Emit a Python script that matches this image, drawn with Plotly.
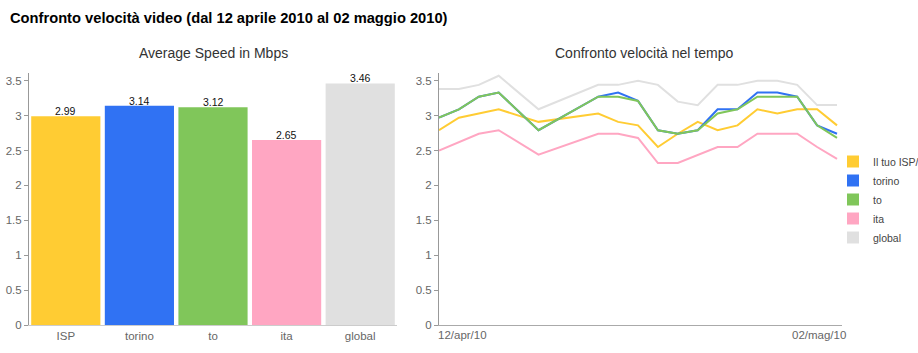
import plotly.graph_objects as go

# ---------------- data ----------------
categories = ["ISP", "torino", "to", "ita", "global"]
avg_speed = [2.99, 3.14, 3.12, 2.65, 3.46]
series_names = ["Il tuo ISP/", "torino", "to", "ita", "global"]
colors = ["#FFCC33", "#3072F3", "#80C65A", "#FFA6C2", "#E0E0E0"]

dates = ["2010-04-12", "2010-04-13", "2010-04-14", "2010-04-15", "2010-04-17",
         "2010-04-20", "2010-04-21", "2010-04-22", "2010-04-23", "2010-04-24",
         "2010-04-25", "2010-04-26", "2010-04-27", "2010-04-28", "2010-04-29",
         "2010-04-30", "2010-05-01", "2010-05-02"]
isp_speed = [2.79, 2.97, 3.03, 3.09, 2.91, 3.03, 2.91, 2.86, 2.55, 2.74,
             2.91, 2.79, 2.86, 3.09, 3.03, 3.09, 3.09, 2.86]
torino_speed = [2.97, 3.09, 3.27, 3.33, 2.79, 3.27, 3.33, 3.21, 2.79, 2.74,
                2.79, 3.09, 3.09, 3.33, 3.33, 3.27, 2.86, 2.74]
to_speed = [2.97, 3.09, 3.27, 3.33, 2.79, 3.27, 3.27, 3.21, 2.79, 2.74,
            2.79, 3.03, 3.09, 3.27, 3.27, 3.27, 2.86, 2.68]
ita_speed = [2.50, 2.62, 2.74, 2.79, 2.44, 2.74, 2.74, 2.68, 2.32, 2.32,
             2.44, 2.55, 2.55, 2.74, 2.74, 2.74, 2.55, 2.38]
global_speed = [3.38, 3.38, 3.44, 3.57, 3.09, 3.44, 3.44, 3.50, 3.44, 3.20,
                3.15, 3.44, 3.44, 3.50, 3.50, 3.44, 3.15, 3.15]
time_series = [isp_speed, torino_speed, to_speed, ita_speed, global_speed]

main_title = "Confronto velocità video (dal 12 aprile 2010 al 02 maggio 2010)"
left_title = "Average Speed in Mbps"
right_title = "Confronto velocità nel tempo"
first_date_label = "12/apr/10"
last_date_label = "02/mag/10"
y_ticks = [0, 0.5, 1, 1.5, 2, 2.5, 3, 3.5]
y_tick_text = ["0", "0.5", "1", "1.5", "2", "2.5", "3", "3.5"]

# ---------------- figure ----------------
W, H = 918, 353
FONT = "Liberation Sans, Arial, sans-serif"
fig = go.Figure()

for name, cat, val, col in zip(series_names, categories, avg_speed, colors):
    fig.add_trace(go.Bar(
        x=[cat], y=[val], name=name, marker=dict(color=col, line=dict(width=0)),
        xaxis="x", yaxis="y", showlegend=True))

for name, vals, col in zip(series_names, time_series, colors):
    fig.add_trace(go.Scatter(
        x=dates, y=vals, name=name, mode="lines",
        line=dict(color=col, width=2), xaxis="x2", yaxis="y2",
        showlegend=False))

ybot, ytop = (H - 325) / H, (H - 73) / H
yaxis_common = dict(range=[0, 3.61], tickvals=y_ticks, ticktext=y_tick_text,
                    showgrid=False, zeroline=False, showline=True,
                    linecolor="#999999", linewidth=1, ticks="outside",
                    ticklen=4, tickcolor="#999999",
                    tickfont=dict(family=FONT, size=11.5, color="#666666"),
                    domain=[ybot, ytop], fixedrange=True)

fig.update_layout(
    width=W, height=H, margin=dict(l=0, r=0, t=0, b=0, autoexpand=False),
    paper_bgcolor="white", plot_bgcolor="white",
    barmode="overlay", bargap=0.06,
    font=dict(family=FONT),
    xaxis=dict(domain=[29 / W, 397 / W], type="category",
               categoryorder="array", categoryarray=categories,
               range=[-0.5, 4.5], showgrid=False, showline=True,
               linecolor="#CCCCCC", linewidth=1, ticks="",
               tickfont=dict(family=FONT, size=11.5, color="#666666")),
    yaxis=dict(anchor="x", **yaxis_common),
    xaxis2=dict(domain=[439 / W, 842 / W], type="date",
                range=["2010-04-12", "2010-05-02 06:00"], showgrid=False,
                showline=True, linecolor="#AAAAAA", linewidth=1,
                showticklabels=False, ticks="", anchor="y2"),
    yaxis2=dict(anchor="x2", **yaxis_common),
    legend=dict(x=833 / W, y=(H - 147) / H, xanchor="left", yanchor="top",
                font=dict(family=FONT, size=10.5, color="#444444"),
                bgcolor="rgba(0,0,0,0)", tracegroupgap=0,
                itemclick=False, itemdoubleclick=False),
    showlegend=True,
)

annotations = [
    dict(text=main_title, x=8 / W, y=(H - 18) / H, xref="paper", yref="paper",
         xanchor="left", yanchor="middle", showarrow=False,
         font=dict(family=FONT, size=14.7, color="#000000", weight="bold")),
    dict(text=left_title, x=213 / W, y=(H - 53) / H, xref="paper", yref="paper",
         xanchor="center", yanchor="middle", showarrow=False,
         font=dict(family=FONT, size=14, color="#333333")),
    dict(text=right_title, x=643.5 / W, y=(H - 53) / H, xref="paper", yref="paper",
         xanchor="center", yanchor="middle", showarrow=False,
         font=dict(family=FONT, size=14, color="#333333")),
    dict(text=first_date_label, x=0, xref="x2 domain", xshift=-3,
         y=(H - 335) / H, yref="paper", xanchor="left", yanchor="middle",
         showarrow=False, font=dict(family=FONT, size=11.5, color="#666666")),
    dict(text=last_date_label, x=1, xref="x2 domain", xshift=6,
         y=(H - 335) / H, yref="paper", xanchor="right", yanchor="middle",
         showarrow=False, font=dict(family=FONT, size=11.5, color="#666666")),
]
for cat, val in zip(categories, avg_speed):
    annotations.append(dict(
        text=f"{val:.2f}", x=cat, y=val, xref="x", yref="y",
        xanchor="center", yanchor="bottom", yshift=-3, showarrow=False,
        font=dict(family=FONT, size=10.5, color="#111111")))
fig.update_layout(annotations=annotations)

fig.write_html("out.html", config={"displayModeBar": False})
